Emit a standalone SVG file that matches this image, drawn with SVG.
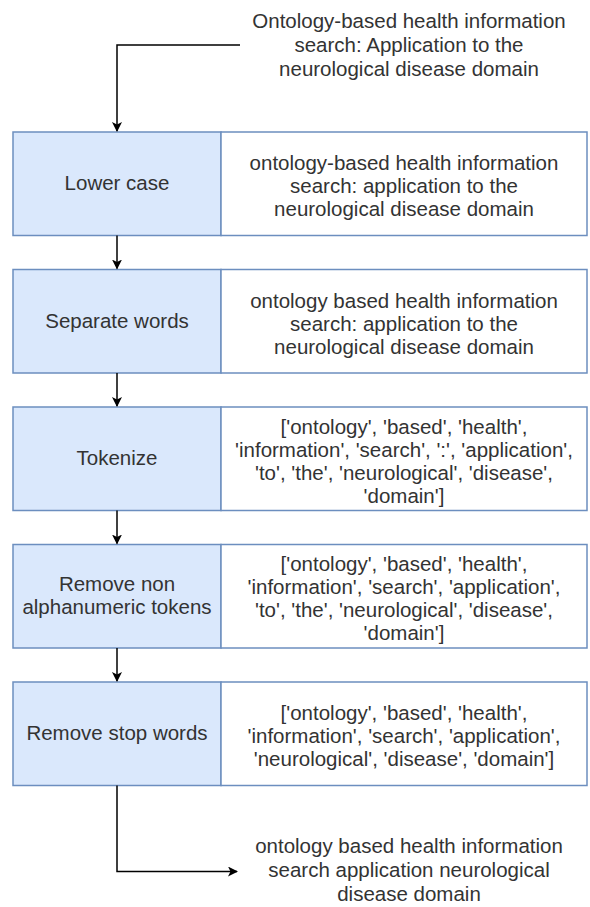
<svg xmlns="http://www.w3.org/2000/svg" width="590" height="907" viewBox="0 0 590 907">
<style>
.l{fill:#dae8fc;stroke:#6c8ebf;stroke-width:1.5}
.r{fill:#ffffff;stroke:#6c8ebf;stroke-width:1.5}
text{font-family:"Liberation Sans",Arial,sans-serif;font-size:20.5px;fill:#333333;text-anchor:middle}
.c{fill:none;stroke:#000000;stroke-width:1.5}
</style>
<defs>
<marker id="ah" markerWidth="10" markerHeight="10" viewBox="0 0 10 10" refX="9" refY="5" orient="auto" markerUnits="userSpaceOnUse">
<path d="M0,0 L10,5 L0,10 L2.5,5 Z" fill="#000"/>
</marker>
</defs>
<rect width="590" height="907" fill="#ffffff"/>
<g id="input">
<text x="409" y="28">Ontology-based health information</text>
<text x="409" y="52">search: Application to the</text>
<text x="409" y="76">neurological disease domain</text>
</g>
<g id="lower-case">
<rect class="l" x="13" y="132" width="208" height="103.5"/>
<rect class="r" x="221" y="132" width="366" height="103.5"/>
<text x="117" y="190">Lower case</text>
<text x="404" y="170">ontology-based health information</text>
<text x="404" y="193">search: application to the</text>
<text x="404" y="216">neurological disease domain</text>
</g>
<g id="separate-words">
<rect class="l" x="13" y="269.5" width="208" height="103.5"/>
<rect class="r" x="221" y="269.5" width="366" height="103.5"/>
<text x="117" y="327.5">Separate words</text>
<text x="404" y="307.5">ontology based health information</text>
<text x="404" y="330.5">search: application to the</text>
<text x="404" y="353.5">neurological disease domain</text>
</g>
<g id="tokenize">
<rect class="l" x="13" y="407" width="208" height="103.5"/>
<rect class="r" x="221" y="407" width="366" height="103.5"/>
<text x="117" y="465">Tokenize</text>
<text x="404" y="433.5">['ontology', 'based', 'health',</text>
<text x="404" y="456.5">'information', 'search', ':', 'application',</text>
<text x="404" y="479.5">'to', 'the', 'neurological', 'disease',</text>
<text x="404" y="502.5">'domain']</text>
</g>
<g id="remove-non-alnum">
<rect class="l" x="13" y="544.5" width="208" height="103.5"/>
<rect class="r" x="221" y="544.5" width="366" height="103.5"/>
<text x="117" y="591">Remove non</text>
<text x="117" y="614">alphanumeric tokens</text>
<text x="404" y="571">['ontology', 'based', 'health',</text>
<text x="404" y="594">'information', 'search', 'application',</text>
<text x="404" y="617">'to', 'the', 'neurological', 'disease',</text>
<text x="404" y="640">'domain']</text>
</g>
<g id="remove-stop-words">
<rect class="l" x="13" y="682" width="208" height="103.5"/>
<rect class="r" x="221" y="682" width="366" height="103.5"/>
<text x="117" y="740">Remove stop words</text>
<text x="404" y="720">['ontology', 'based', 'health',</text>
<text x="404" y="743">'information', 'search', 'application',</text>
<text x="404" y="766">'neurological', 'disease', 'domain']</text>
</g>
<g id="output">
<text x="409" y="853">ontology based health information</text>
<text x="409" y="877">search application neurological</text>
<text x="409" y="901">disease domain</text>
</g>
<g id="connectors">
<path class="c" d="M240,45 H117 V131" marker-end="url(#ah)"/>
<path class="c" d="M117,235.5 V268.5" marker-end="url(#ah)"/>
<path class="c" d="M117,373 V406" marker-end="url(#ah)"/>
<path class="c" d="M117,510.5 V543.5" marker-end="url(#ah)"/>
<path class="c" d="M117,648 V681" marker-end="url(#ah)"/>
<path class="c" d="M117,785.5 V871.5 H237" marker-end="url(#ah)"/>
</g>
</svg>
